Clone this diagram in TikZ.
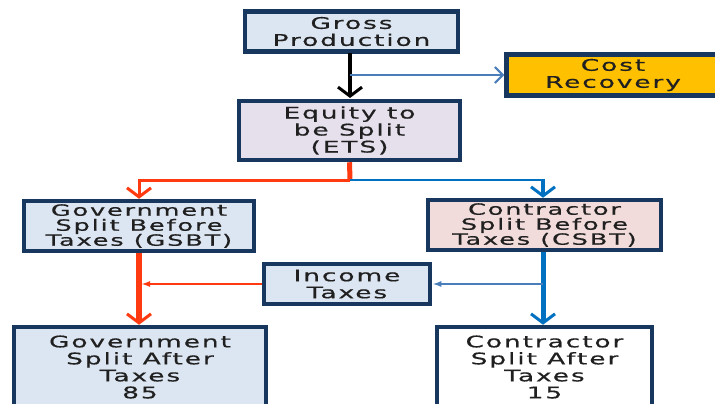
\documentclass[tikz,border=0pt]{standalone}
\usepackage{fontspec}
\newfontfamily\bx{DejaVu Sans}[FakeStretch=1.65,LetterSpace=12,FakeBold=0.6]
\usetikzlibrary{arrows.meta}
\definecolor{bord}{HTML}{17375E}
\definecolor{lblue}{HTML}{DCE6F2}
\definecolor{lav}{HTML}{E6E0EC}
\definecolor{lpink}{HTML}{F2DCDB}
\definecolor{gold}{HTML}{FFC000}
\definecolor{rd}{HTML}{FF3A10}
\definecolor{bl}{HTML}{0070C0}
\definecolor{tbl}{HTML}{4A7EBB}
\definecolor{txt}{HTML}{202020}
\tikzset{
  box/.style={draw=bord, line width=4.5pt, align=center, text=txt, inner sep=0pt,
    font=\bx\fontsize{16}{17}\selectfont},
  tight/.style={font=\bx\fontsize{15.5}{15}\selectfont},
  chev/.style={-{Straight Barb[length=9pt,width=24pt,line width=3pt]}},
  small/.style={-{Latex[length=9pt,width=6pt]}},
}
\begin{document}
\begin{tikzpicture}[x=1pt,y=-1pt]
\useasboundingbox (0,0) rectangle (715,404);
% boxes
\node[box, fill=lblue, minimum width=213pt, minimum height=40pt] (gp) at (351.5,31.5) {Gross\\Production};
\node[box, fill=lav, minimum width=221pt, minimum height=59pt] (ets) at (349.5,130.5) {Equity to\\be Split\\(ETS)};
\node[box, fill=gold, minimum width=213pt, minimum height=41pt] (cr) at (613,75) {Cost\\Recovery};
\node[box, tight, fill=lblue, minimum width=230pt, minimum height=50pt] (gsbt) at (139,226) {Government\\Split Before\\Taxes (GSBT)};
\node[box, tight, fill=lpink, minimum width=233pt, minimum height=50pt] (csbt) at (544.5,225) {Contractor\\Split Before\\Taxes (CSBT)};
\node[box, fill=lblue, minimum width=166pt, minimum height=40pt] (it) at (347,284) {Income\\Taxes};
\node[box, fill=lblue, minimum width=252pt, minimum height=80pt] (gsat) at (140,367) {Government\\Split After\\Taxes\\85};
\node[box, fill=white, minimum width=215pt, minimum height=80pt] (csat) at (544.5,367) {Contractor\\Split After\\Taxes\\15};
% junctions
\coordinate (sp) at (350,180);
\coordinate (gpd) at (350,53);
% gross -> ets
\draw[line width=4pt, black, chev] (gpd) -- (350,98);
% to cost recovery
\draw[line width=2pt, tbl, -{Straight Barb[length=8pt,width=16pt,line width=2pt]}] (350,75) -- (cr.west);
% ets split
\draw[line width=5pt, rd] (ets.south) -- (sp);
\draw[line width=3pt, rd, chev] (sp) -| (gsbt.north);
\draw[line width=2.5pt, bl] (sp) -- (543,180);
\draw[line width=4pt, bl, chev] (543,179) -- (csbt.north -| 543,0);
% gsbt -> gsat
\draw[line width=5.5pt, rd, chev] (gsbt.south) -- (gsat.north -| gsbt.south);
% csbt -> csat
\draw[line width=5pt, bl, chev] (csbt.south -| 543,0) -- (csat.north -| 543,0);
% income taxes
\draw[line width=2.5pt, rd, small] (it.west) -- (141,284);
\draw[line width=2pt, tbl, small] (543,284) -- (it.east);
\end{tikzpicture}
\end{document}
